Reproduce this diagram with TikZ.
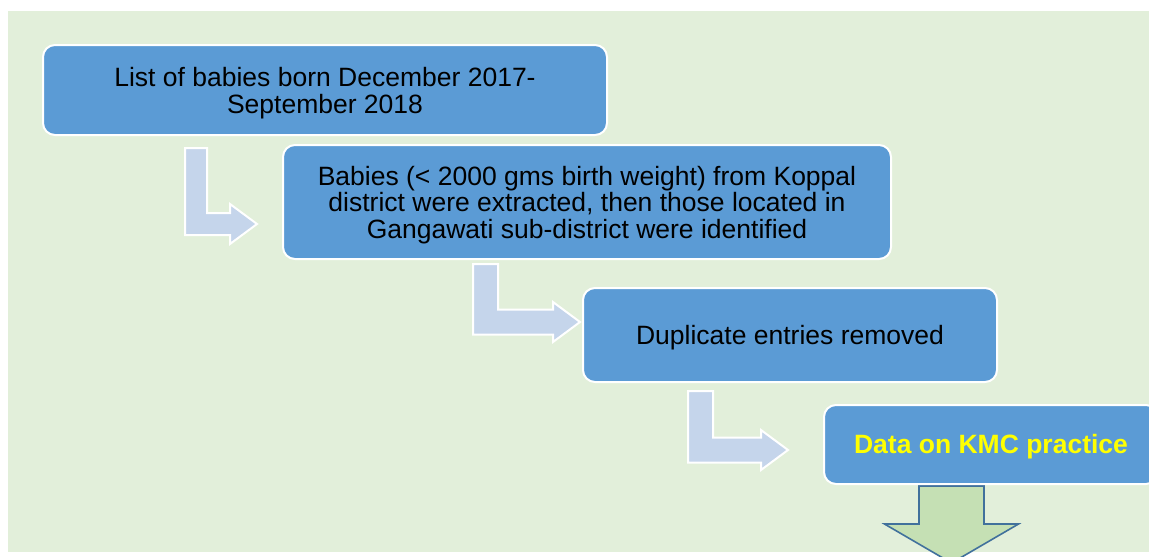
\documentclass[tikz,border=0pt]{standalone}
\usepackage{fontspec}
\setmainfont{Liberation Sans}
\usetikzlibrary{calc}

\definecolor{bgGreen}{HTML}{E2EFDA}
\definecolor{boxBlue}{HTML}{5B9BD5}
\definecolor{arrowBlue}{HTML}{C5D5EB}
\definecolor{arrowGreen}{HTML}{C5E0B4}
\definecolor{arrowEdge}{HTML}{41719C}
\definecolor{kmcYellow}{HTML}{FFFF00}

\tikzset{
  stepbox/.style={rectangle, rounded corners=12pt, fill=boxBlue, draw=white,
    line width=2pt, inner sep=0pt},
  steptext/.style={inner sep=0pt, align=center, text=black, yshift=-3pt,
    font=\fontsize{26.5}{26.5}\selectfont},
  bentarrow/.style={fill=arrowBlue, draw=white, line width=2pt, line join=miter},
  downarrow/.style={fill=arrowGreen, draw=arrowEdge, line width=1.6pt, line join=miter}
}

% L-shaped arrow: #1 = top-left corner of the vertical bar, #2 = tip, #3 = bar width
\newcommand\bentarrowdraw[3]{%
  \draw[bentarrow] (#1) -- ($(#1)+(#3,0)$) -- ($(#1 |- #2)+(#3,-#3/2)$)
    -- ($(#2)+(-27,-#3/2)$) -- ($(#2)+(-27,-20)$) -- (#2)
    -- ($(#2)+(-27,20)$) -- ($(#2)+(-27,#3/2)$) -- ($(#1 |- #2)+(0,#3/2)$) -- cycle;}

\begin{document}
\begin{tikzpicture}[x=1pt,y=-1pt]
  \useasboundingbox (0,0) rectangle (1149,557);
  \clip (0,0) rectangle (1149,557);

  % panel background
  \fill[bgGreen] (8,11) rectangle (1149,552);

  % bent arrows between the steps
  \coordinate (a1s) at (185,148);
  \coordinate (a1t) at (257,224);
  \coordinate (a2s) at (473,264);
  \coordinate (a2t) at (580,322);
  \coordinate (a3s) at (688,391);
  \coordinate (a3t) at (788,450);
  \bentarrowdraw{a1s}{a1t}{22}
  \bentarrowdraw{a2s}{a2t}{25}
  \bentarrowdraw{a3s}{a3t}{25}

  % down arrow below the last step
  \coordinate (d1) at (951.5,486);
  \coordinate (d2) at (951.5,563);
  \draw[downarrow] ($(d1)+(-32.5,0)$) -- ($(d1)+(32.5,0)$) -- ($(d1)+(32.5,38)$)
    -- ($(d1)+(67,38)$) -- (d2) -- ($(d1)+(-67,38)$) -- ($(d1)+(-32.5,38)$) -- cycle;

  % steps
  \node[stepbox, minimum width=564, minimum height=90] (box1) at (325,90) {};
  \node[steptext] (t1) at (box1.center)
    {List of babies born December 2017-\\September 2018};

  \node[stepbox, minimum width=608, minimum height=114] (box2) at (587,202) {};
  \node[steptext] (t2) at (box2.center)
    {Babies (< 2000 gms birth weight) from Koppal\\district were extracted, then those located in\\Gangawati sub-district were identified};

  \node[stepbox, minimum width=414, minimum height=94] (box3) at (790,335) {};
  \node[steptext] (t3) at (box3.center) {Duplicate entries removed};

  \node[stepbox, minimum width=334, minimum height=79] (box4) at (991,444.5) {};
  \node[steptext, text=kmcYellow, yshift=1pt,
    font=\fontsize{26.5}{26.5}\selectfont\bfseries] (t4) at (box4.center)
    {Data on KMC practice};
\end{tikzpicture}
\end{document}
